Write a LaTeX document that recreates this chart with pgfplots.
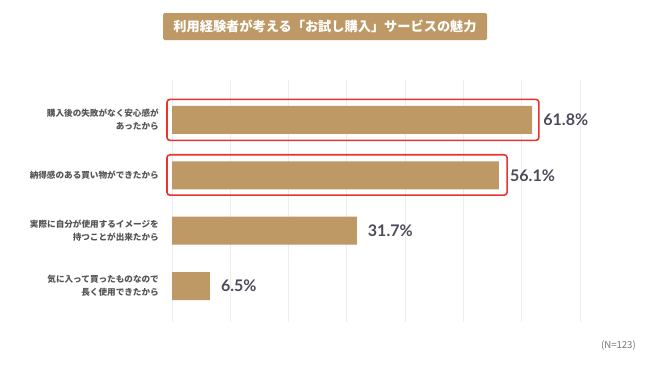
\documentclass[border=0pt]{standalone}
\usepackage{pgfplots}
\pgfplotsset{compat=1.18}
\usepackage{fontspec}
\newfontfamily\cjk{Noto Sans CJK JP}
\newfontfamily\lato{Lato}
\definecolor{bartan}{HTML}{BE9966}
\definecolor{valtxt}{HTML}{4B4B5A}
\definecolor{cattxt}{HTML}{555555}
\definecolor{boxred}{HTML}{E8332F}
\begin{document}
\begin{tikzpicture}
\path[use as bounding box, fill=white] (0,0) rectangle (650bp,-366bp);
\node[fill=bartan, rounded corners=1.5bp, minimum width=324bp, minimum height=27bp, inner sep=0pt, text=white, font=\cjk\bfseries\fontsize{13.2bp}{15bp}\selectfont] at (325bp,-26.5bp) {利用経験者が考える「お試し購入」サービスの魅力};
\begin{axis}[
  at={(172bp,-322bp)}, anchor=south west,
  scale only axis, width=408bp, height=242bp,
  xmin=0, xmax=70, ymin=-0.72, ymax=3.65,
  y dir=reverse,
  xbar, bar width=28bp,
  axis line style={draw=none},
  major tick length=0pt,
  xtick={0,10,...,70}, xticklabels={},
  xmajorgrids, major grid style={color=black!7, line width=0.9bp},
  ytick={0,1,2,3},
  yticklabels={{購入後の失敗がなく安心感が\\あったから},{納得感のある買い物ができたから},{実際に自分が使用するイメージを\\持つことが出来たから},{気に入って買ったものなので\\長く使用できたから}},
  yticklabel style={align=right, anchor=east, inner sep=0pt, xshift=-13bp, text=cattxt, font=\cjk\bfseries\fontsize{8.6bp}{13bp}\selectfont},
  point meta=explicit symbolic,
  nodes near coords,
  nodes near coords style={anchor=west, inner sep=0pt, xshift=11bp, text=valtxt, font=\lato\bfseries\fontsize{16bp}{18bp}\selectfont},
  clip=false,
]
\addplot[fill=bartan, draw=none] coordinates {(61.8,0) [61.8\%] (56.1,1) [56.1\%] (31.7,2) [31.7\%] (6.5,3) [6.5\%]};
\draw[boxred, line width=1.6bp, rounded corners=3bp] (axis cs:-0.86,-0.37) rectangle (axis cs:62.95,0.37);
\draw[boxred, line width=1.6bp, rounded corners=3bp] (axis cs:-0.86,0.63) rectangle (axis cs:57.5,1.36);
\end{axis}
\node[anchor=east, inner sep=0pt, text=black!55, font=\cjk\fontsize{9.6bp}{11bp}\selectfont] at (636bp,-346bp) {(N=123)};
\end{tikzpicture}
\end{document}
